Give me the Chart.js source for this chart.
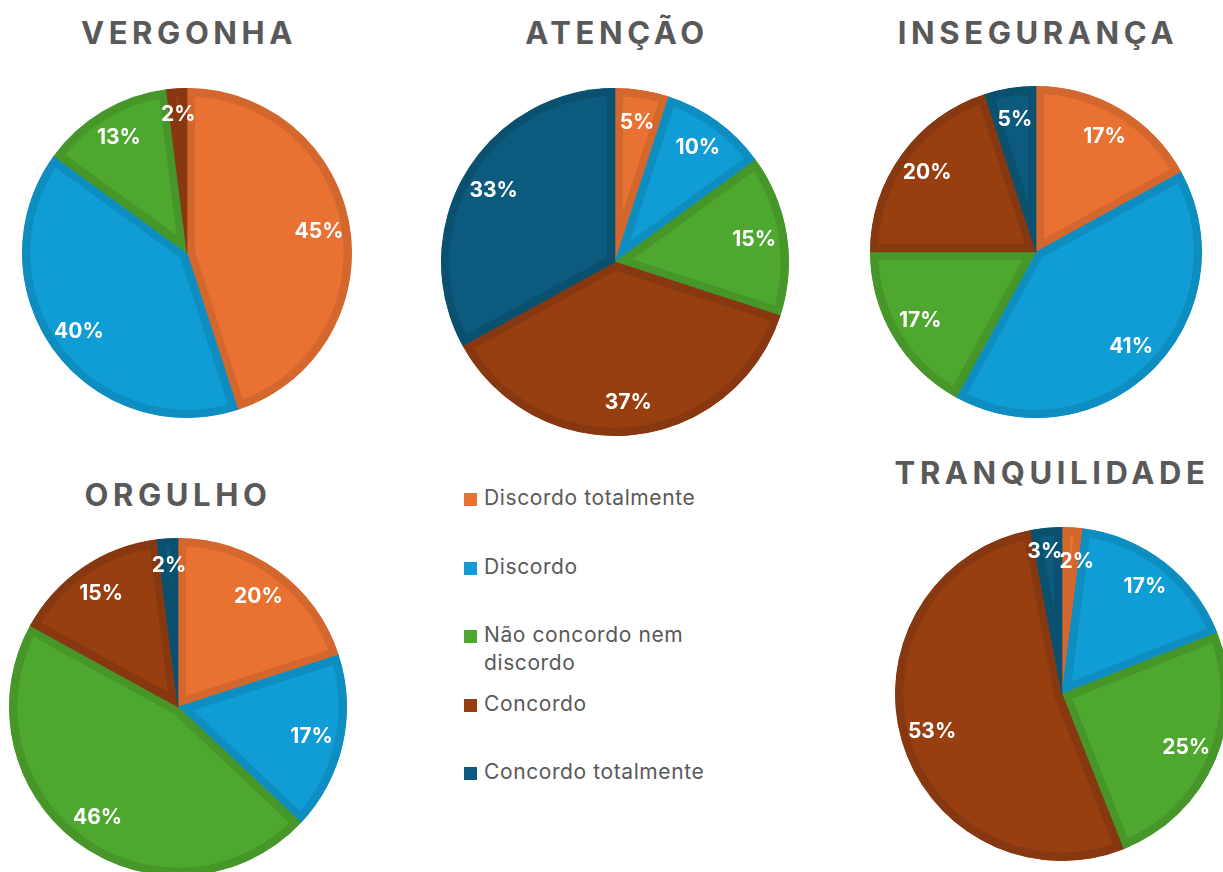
<!DOCTYPE html>
<html>
<head>
<meta charset="utf-8">
<script src="https://cdn.jsdelivr.net/npm/chart.js@4/dist/chart.umd.min.js"></script>
<style>
  html, body { margin: 0; padding: 0; background: #fff; }
  body { width: 1223px; height: 872px; position: relative; overflow: hidden; font-family: Inter, sans-serif; }
  .title { position: absolute; transform: translateX(-50%); white-space: nowrap;
           font-weight: 700; font-size: 31px; letter-spacing: 4.6px; color: #595959; line-height: 1; }
  .pie { position: absolute; }
  #legend { position: absolute; left: 464px; top: 484px; color: #595959; font-size: 21px; letter-spacing: 0.6px; }
  .item { position: absolute; left: 0; white-space: nowrap; line-height: 28px; }
  .item span.box { display: inline-block; width: 13px; height: 13px; margin-right: 7px; vertical-align: -1px; }
  .item .txt { display: inline-block; vertical-align: top; }
</style>
</head>
<body>

<script>
// categorias (ordem das fatias, no sentido horário a partir do topo)
var categorias = ['Discordo totalmente', 'Discordo', 'Não concordo nem discordo', 'Concordo', 'Concordo totalmente'];

var vergonha      = [45, 40, 13, 2, 0];
var atencao       = [5, 10, 15, 37, 33];
var inseguranca   = [17, 41, 17, 20, 5];
var orgulho       = [20, 17, 46, 15, 2];
var tranquilidade = [2, 17, 25, 53, 3];

var cores  = ['#E97132', '#109DD6', '#4EA72E', '#973F10', '#0C5A7D'];
var bordas = ['#D4672E', '#0E8DC1', '#469629', '#873810', '#0A5170'];

// posição de cada pizza na página; ajustes = deslocamento de rótulos pequenos
var graficos = [
  { titulo: 'VERGONHA',      dados: vergonha,      cx: 187, cy: 253, r: 165, tx: 189,  ty: 17 },
  { titulo: 'ATENÇÃO',       dados: atencao,       cx: 615, cy: 262, r: 174, tx: 617,  ty: 17 },
  { titulo: 'INSEGURANÇA',   dados: inseguranca,   cx: 1036, cy: 252, r: 166, tx: 1038, ty: 17 },
  { titulo: 'ORGULHO',       dados: orgulho,       cx: 178, cy: 707, r: 169, tx: 178,  ty: 479 },
  { titulo: 'TRANQUILIDADE', dados: tranquilidade, cx: 1062, cy: 694, r: 167, tx: 1052, ty: 457,
    ajustes: { 0: [6, 8], 4: [-4, -3] } }
];

var rotulos = {
  id: 'rotulos',
  afterDatasetsDraw: function (chart, args, opts) {
    var ctx = chart.ctx;
    var meta = chart.getDatasetMeta(0);
    var valores = chart.data.datasets[0].data;
    var ajustes = opts.ajustes || {};
    ctx.save();
    ctx.fillStyle = '#fff';
    ctx.font = 'bold 21px Inter, sans-serif';
    ctx.textAlign = 'center';
    ctx.textBaseline = 'middle';
    meta.data.forEach(function (arc, i) {
      if (!valores[i]) return;
      var p = arc.getProps(['x', 'y', 'startAngle', 'endAngle', 'outerRadius'], true);
      var a = (p.startAngle + p.endAngle) / 2;
      var d = p.outerRadius * (valores[i] < 4 ? 0.84 : 0.81);
      var aj = ajustes[i] || [0, 0];
      ctx.fillText(valores[i] + '%', p.x + Math.cos(a) * d + aj[0], p.y + Math.sin(a) * d + aj[1]);
    });
    ctx.restore();
  }
};

graficos.forEach(function (g) {
  var t = document.createElement('div');
  t.className = 'title';
  t.textContent = g.titulo;
  t.style.left = g.tx + 'px';
  t.style.top = g.ty + 'px';
  document.body.appendChild(t);

  var wrap = document.createElement('div');
  wrap.className = 'pie';
  wrap.style.left = (g.cx - g.r) + 'px';
  wrap.style.top = (g.cy - g.r) + 'px';
  wrap.style.width = (2 * g.r) + 'px';
  wrap.style.height = (2 * g.r) + 'px';
  var canvas = document.createElement('canvas');
  wrap.appendChild(canvas);
  document.body.appendChild(wrap);

  new Chart(canvas.getContext('2d'), {
    type: 'pie',
    data: {
      labels: categorias,
      datasets: [{
        data: g.dados,
        backgroundColor: cores,
        borderColor: bordas,
        borderWidth: 8,
        borderAlign: 'inner',
        borderJoinStyle: 'miter'
      }]
    },
    options: {
      responsive: true,
      maintainAspectRatio: false,
      animation: false,
      layout: { padding: 0 },
      plugins: {
        legend: { display: false },
        tooltip: { enabled: false },
        rotulos: { ajustes: g.ajustes }
      }
    },
    plugins: [rotulos]
  });
});

// legenda
var legendaY = [0, 69, 137, 206, 274];
var legenda = document.createElement('div');
legenda.id = 'legend';
categorias.forEach(function (c, i) {
  var it = document.createElement('div');
  it.className = 'item';
  it.style.top = legendaY[i] + 'px';
  var txt = c === 'Não concordo nem discordo' ? 'Não concordo nem<br>discordo' : c;
  it.innerHTML = '<span class="box" style="background:' + cores[i] + '"></span><span class="txt">' + txt + '</span>';
  legenda.appendChild(it);
});
document.body.appendChild(legenda);
</script>
</body>
</html>
